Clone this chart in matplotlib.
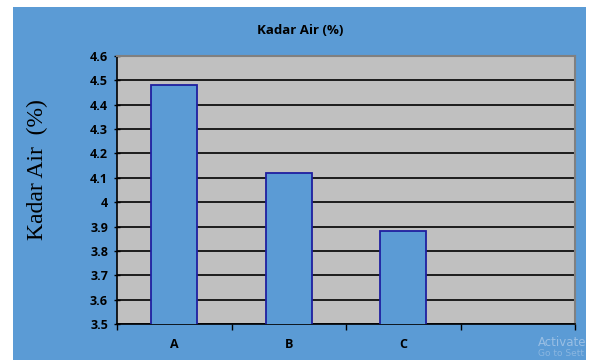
import matplotlib.pyplot as plt
from matplotlib.patches import Rectangle

# kadar air per sampel
sampel = ['A', 'B', 'C', '']
kadar_air = [4.48, 4.12, 3.88]
y_ticks = [3.5, 3.6, 3.7, 3.8, 3.9, 4.0, 4.1, 4.2, 4.3, 4.4, 4.5, 4.6]
y_labels = ['3.5', '3.6', '3.7', '3.8', '3.9', '4', '4.1', '4.2', '4.3', '4.4', '4.5', '4.6']

W, H = 593, 360
biru = '#5b9bd5'

fig = plt.figure(figsize=(W / 100, H / 100), dpi=100)
fig.patch.set_facecolor('white')
fig.patches.append(Rectangle((13 / W, 0), (586 - 13) / W, (H - 7) / H,
                             transform=fig.transFigure, facecolor=biru,
                             edgecolor='none', zorder=-5))

ax = fig.add_axes([117 / W, (H - 324) / H, (575 - 117) / W, (324 - 56) / H])
ax.set_zorder(2)
ax.set_facecolor('#c0c0c0')

x = list(range(len(kadar_air)))
ax.bar(x, kadar_air, width=0.4, bottom=0, color=biru, edgecolor='#1f1fa0',
       linewidth=1.3, zorder=3)

ax.set_xlim(-0.5, len(sampel) - 0.5)
ax.set_ylim(3.5, 4.6)
ax.set_yticks(y_ticks)
ax.set_yticklabels(y_labels, fontsize=9, fontweight='bold', family='Open Sans')
ax.yaxis.grid(True, color='black', linewidth=1.2, zorder=1)
ax.set_axisbelow(True)

ax.set_xticks([i + 0.5 for i in range(-1, len(sampel))])
ax.set_xticklabels([])
ax.set_xticks(range(len(sampel)), minor=True)
ax.set_xticklabels(sampel, minor=True, fontsize=9, fontweight='bold', family='Open Sans')
ax.tick_params(axis='x', which='minor', length=0, pad=10)
ax.tick_params(axis='x', which='major', length=4, width=1, direction='out', color='black')
ax.tick_params(axis='y', length=5, width=1, direction='inout', pad=4)

for s in ['top', 'right']:
    ax.spines[s].set_color('#808080')
    ax.spines[s].set_linewidth(1.5)
for s in ['left', 'bottom']:
    ax.spines[s].set_color('black')
    ax.spines[s].set_linewidth(1.2)

fig.text(300 / W, 1 - 31 / H, 'Kadar Air (%)', ha='center', va='center',
         fontsize=9.5, fontweight='bold', family='Open Sans')
fig.text(37 / W, 1 - 170 / H, 'Kadar Air  (%)', ha='center', va='center',
         rotation=90, fontsize=17, family='Liberation Serif')

fig.text(538 / W, 1 - 343 / H, 'Activate', ha='left', va='center',
         fontsize=8.5, color='#a9c8e8', alpha=0.8)
fig.text(538 / W, 1 - 354 / H, 'Go to Sett', ha='left', va='center',
         fontsize=6.5, color='#a9c8e8', alpha=0.6)

fig.savefig('out.png', dpi=100, facecolor=fig.get_facecolor())
